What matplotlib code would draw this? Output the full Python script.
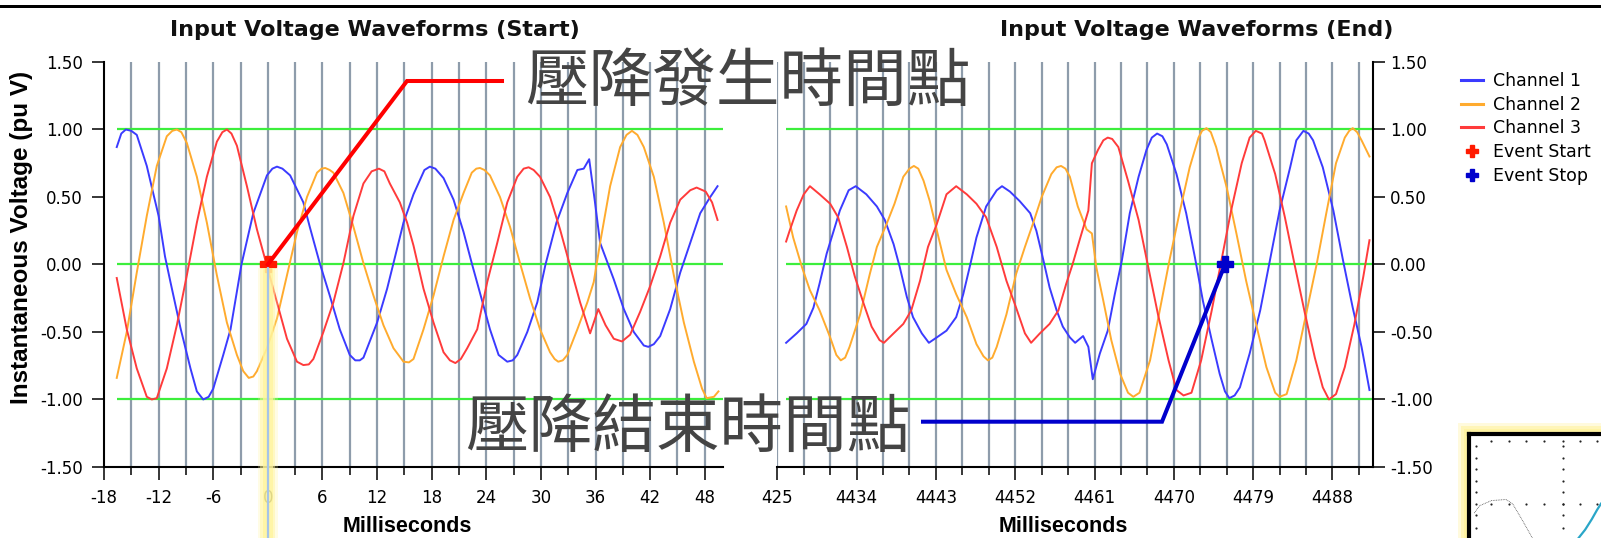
import numpy as np
import matplotlib.pyplot as plt
from matplotlib.lines import Line2D
from matplotlib.patches import Rectangle

plt.rcParams['font.family'] = ['DejaVu Sans']
plt.rcParams['axes.unicode_minus'] = False

# ---------------- waveform samples (ms, pu V) ----------------
# sag start window
start_t1 = [-16.6, -16.1, -15.6, -15.0, -14.4, -13.3, -12.6, -12.0, -11.3, -10.7, -9.6, -8.5, -7.8, -7.1,
            -6.5, -6.0, -4.9, -4.1, -2.9, -1.6, -0.1, 0.5, 1.0, 1.6, 2.45, 3.9, 4.6, 5.7, 6.8, 7.9, 9.0,
            9.6, 10.1, 10.5, 12.0, 13.1, 13.8, 14.9, 16.0, 17.2, 17.8, 18.4, 19.3, 20.4, 21.5, 22.4, 23.3,
            24.4, 25.35, 26.3, 26.9, 27.4, 28.5, 29.6, 30.5, 31.7, 32.9, 34.0, 34.7, 35.3, 35.9, 36.5,
            38.0, 39.1, 40.2, 41.3, 41.8, 42.4, 43.1, 44.2, 45.3, 46.4, 47.5, 48.6, 49.4]
start_v1 = [0.87, 0.97, 1.00, 0.99, 0.96, 0.73, 0.53, 0.36, 0.06, -0.13, -0.47, -0.77, -0.94, -1.00,
            -0.98, -0.92, -0.67, -0.48, 0.00, 0.38, 0.66, 0.71, 0.725, 0.71, 0.66, 0.46, 0.28, 0.01, -0.23,
            -0.48, -0.67, -0.71, -0.71, -0.69, -0.43, -0.18, 0.01, 0.31, 0.52, 0.70, 0.725, 0.71, 0.64,
            0.48, 0.24, 0.01, -0.21, -0.48, -0.67, -0.72, -0.71, -0.67, -0.50, -0.28, 0.00, 0.31, 0.53,
            0.70, 0.71, 0.78, 0.48, 0.16, -0.11, -0.33, -0.50, -0.60, -0.61, -0.59, -0.53, -0.33, -0.06,
            0.16, 0.38, 0.50, 0.58]

start_t2 = [-16.6, -15.5, -14.4, -13.3, -12.2, -11.1, -10.5, -10.0, -9.5, -8.9, -7.8, -6.7, -5.6, -4.5,
            -3.4, -2.7, -2.1, -1.6, -1.2, -0.1, 1.0, 2.1, 3.2, 4.3, 5.4, 5.9, 6.3, 6.8, 7.2, 8.3, 9.4,
            10.5, 11.6, 12.7, 13.8, 14.9, 15.5, 16.0, 17.1, 18.2, 19.3, 20.4, 21.5, 22.4, 22.9, 23.3, 23.8,
            24.4, 25.5, 26.6, 27.7, 28.8, 29.9, 31.0, 31.5, 31.9, 32.4, 32.9, 34.0, 35.1, 35.8, 36.5, 37.6,
            38.7, 39.4, 40.0, 40.6, 41.3, 42.4, 43.5, 44.6, 45.7, 46.8, 47.7, 48.2, 49.0, 49.5]
start_v2 = [-0.84, -0.50, -0.06, 0.36, 0.73, 0.95, 0.99, 1.00, 0.98, 0.90, 0.65, 0.31, -0.08, -0.43,
            -0.67, -0.79, -0.84, -0.83, -0.79, -0.62, -0.40, -0.08, 0.24, 0.50, 0.68, 0.71, 0.715, 0.70,
            0.68, 0.53, 0.28, 0.01, -0.23, -0.45, -0.62, -0.72, -0.725, -0.70, -0.48, -0.23, 0.06, 0.33,
            0.53, 0.68, 0.71, 0.715, 0.70, 0.66, 0.50, 0.28, 0.01, -0.25, -0.48, -0.65, -0.70, -0.72,
            -0.71, -0.67, -0.48, -0.28, -0.13, 0.16, 0.58, 0.87, 0.96, 0.99, 0.96, 0.87, 0.65, 0.31, -0.08,
            -0.43, -0.72, -0.92, -0.99, -0.98, -0.94]

start_t3 = [-16.6, -15.5, -14.4, -13.3, -12.75, -12.2, -11.1, -10.0, -8.9, -7.8, -6.7, -5.6, -5.0, -4.5,
            -4.0, -3.4, -2.3, -1.2, -0.1, 1.0, 2.1, 3.2, 3.9, 4.5, 5.0, 6.1, 7.2, 8.3, 9.4, 10.5, 11.4,
            12.2, 12.8, 13.4, 14.5, 15.3, 16.0, 17.1, 18.2, 19.3, 20.0, 20.6, 21.2, 21.9, 23.0, 24.1, 25.2,
            26.3, 27.4, 28.1, 28.65, 29.2, 29.9, 31.0, 32.1, 33.2, 34.3, 35.4, 36.3, 37.1, 38.0, 38.9, 39.8,
            40.9, 42.0, 43.1, 44.2, 45.3, 46.4, 47.1, 48.1, 48.8, 49.4]
start_v3 = [-0.10, -0.48, -0.77, -0.98, -1.00, -0.99, -0.77, -0.45, -0.08, 0.31, 0.65, 0.91, 0.98, 1.00,
            0.97, 0.88, 0.58, 0.26, -0.01, -0.28, -0.55, -0.72, -0.745, -0.74, -0.70, -0.50, -0.28, 0.01,
            0.36, 0.60, 0.69, 0.71, 0.69, 0.60, 0.46, 0.31, 0.14, -0.18, -0.43, -0.65, -0.71, -0.73, -0.70,
            -0.62, -0.48, -0.13, 0.16, 0.46, 0.65, 0.71, 0.72, 0.70, 0.65, 0.50, 0.26, -0.01, -0.28, -0.51,
            -0.33, -0.45, -0.55, -0.57, -0.52, -0.35, -0.16, 0.06, 0.31, 0.48, 0.55, 0.57, 0.54, 0.46, 0.33]

# sag end window
end_t1 = [4426.0, 4427.2, 4428.3, 4429.1, 4429.8, 4430.6, 4431.4, 4432.1, 4433.1, 4433.9, 4435.1, 4436.3,
          4437.2, 4438.2, 4438.9, 4439.7, 4440.4, 4441.4, 4442.2, 4443.1, 4444.2, 4445.3, 4446.1, 4446.9,
          4447.6, 4448.7, 4449.9, 4450.5, 4451.4, 4452.5, 4453.7, 4454.4, 4455.2, 4455.9, 4456.7, 4457.4,
          4458.2, 4458.8, 4459.7, 4460.3, 4460.8, 4461.6, 4462.5, 4463.3, 4464.1, 4465.0, 4466.0, 4466.9,
          4467.5, 4468.1, 4468.7, 4469.2, 4470.3, 4471.4, 4472.4, 4473.3, 4474.3, 4475.2, 4475.8, 4476.3,
          4476.9, 4477.5, 4478.6, 4479.8, 4480.9, 4482.0, 4483.2, 4483.9, 4484.7, 4485.3, 4485.8, 4486.9,
          4488.1, 4489.2, 4490.3, 4491.3, 4492.2]
end_v1 = [-0.58, -0.51, -0.44, -0.32, -0.14, 0.08, 0.25, 0.40, 0.55, 0.58, 0.52, 0.43, 0.33, 0.15, -0.02,
          -0.24, -0.39, -0.51, -0.58, -0.54, -0.49, -0.39, -0.22, 0.00, 0.20, 0.43, 0.55, 0.58, 0.54, 0.47,
          0.38, 0.25, 0.03, -0.17, -0.34, -0.46, -0.54, -0.58, -0.53, -0.61, -0.85, -0.66, -0.49, -0.22,
          0.03, 0.38, 0.65, 0.85, 0.94, 0.97, 0.95, 0.89, 0.67, 0.38, 0.05, -0.27, -0.56, -0.81, -0.94,
          -0.99, -0.97, -0.91, -0.66, -0.34, 0.03, 0.40, 0.72, 0.92, 0.99, 0.97, 0.92, 0.72, 0.40, 0.03,
          -0.32, -0.61, -0.93]

end_t2 = [4426.0, 4426.8, 4427.8, 4428.7, 4429.8, 4431.0, 4431.7, 4432.2, 4432.7, 4433.2, 4434.4, 4435.5,
          4436.3, 4437.4, 4438.3, 4439.3, 4440.0, 4440.5, 4441.0, 4441.6, 4442.3, 4443.3, 4444.2, 4445.3,
          4446.5, 4447.6, 4448.4, 4448.9, 4449.4, 4449.9, 4451.0, 4452.1, 4453.1, 4454.0, 4455.0, 4456.1,
          4456.7, 4457.2, 4457.7, 4458.2, 4459.1, 4460.1, 4460.7, 4461.2, 4462.0, 4462.9, 4463.9, 4464.8,
          4465.4, 4466.1, 4467.3, 4468.4, 4469.5, 4470.7, 4471.8, 4472.8, 4473.2, 4473.7, 4474.2, 4474.8,
          4476.0, 4477.1, 4478.2, 4479.4, 4480.5, 4481.5, 4482.0, 4482.8, 4483.9, 4485.0, 4486.2, 4487.3,
          4488.4, 4489.4, 4489.9, 4490.3, 4490.8, 4491.3, 4492.2]
end_v2 = [0.43, 0.20, -0.02, -0.19, -0.34, -0.54, -0.67, -0.71, -0.69, -0.61, -0.37, -0.07, 0.13, 0.30,
          0.45, 0.65, 0.71, 0.73, 0.71, 0.62, 0.47, 0.20, -0.04, -0.22, -0.39, -0.59, -0.68, -0.71, -0.69,
          -0.61, -0.37, -0.07, 0.13, 0.30, 0.50, 0.67, 0.72, 0.73, 0.71, 0.65, 0.43, 0.26, 0.23, -0.02,
          -0.27, -0.56, -0.81, -0.95, -0.98, -0.95, -0.71, -0.34, 0.03, 0.40, 0.72, 0.94, 0.99, 1.01,
          0.98, 0.87, 0.57, 0.23, -0.12, -0.46, -0.76, -0.95, -0.98, -0.96, -0.71, -0.37, 0.00, 0.38,
          0.75, 0.94, 0.99, 1.01, 0.98, 0.92, 0.80]

end_t3 = [4426.0, 4426.4, 4427.2, 4428.0, 4428.7, 4429.8, 4431.0, 4431.9, 4432.9, 4433.8, 4434.8, 4435.7,
          4436.6, 4437.1, 4438.2, 4439.3, 4440.2, 4441.2, 4442.1, 4443.1, 4444.2, 4445.3, 4446.5, 4447.6,
          4448.7, 4449.9, 4451.0, 4452.1, 4453.1, 4453.8, 4454.8, 4455.9, 4456.9, 4457.8, 4458.5, 4459.3,
          4460.3, 4460.7, 4461.4, 4462.0, 4462.5, 4463.0, 4463.7, 4464.8, 4466.0, 4467.1, 4468.2, 4469.4,
          4470.3, 4471.1, 4472.0, 4473.1, 4474.3, 4475.4, 4476.5, 4477.7, 4478.6, 4479.3, 4480.0, 4480.3,
          4481.5, 4482.6, 4483.7, 4484.9, 4486.0, 4486.9, 4487.6, 4488.4, 4489.4, 4490.5, 4491.5, 4492.2]
end_v3 = [0.17, 0.25, 0.40, 0.52, 0.58, 0.52, 0.45, 0.35, 0.13, -0.09, -0.29, -0.46, -0.56, -0.58, -0.51,
          -0.44, -0.34, -0.12, 0.13, 0.30, 0.52, 0.58, 0.52, 0.45, 0.35, 0.13, -0.12, -0.32, -0.51, -0.58,
          -0.51, -0.44, -0.34, -0.14, 0.00, 0.18, 0.40, 0.75, 0.85, 0.92, 0.94, 0.93, 0.87, 0.62, 0.33,
          -0.02, -0.37, -0.71, -0.93, -0.97, -0.95, -0.71, -0.34, 0.03, 0.40, 0.75, 0.94, 0.99, 0.97, 0.92,
          0.67, 0.35, 0.00, -0.37, -0.69, -0.91, -1.00, -0.96, -0.76, -0.44, -0.09, 0.18]

event_start = 0.0
event_stop = 4475.8

y_ticks = [-1.5, -1.0, -0.5, 0.0, 0.5, 1.0, 1.5]
ref_levels = [-1.0, 0.0, 1.0]
start_ticks = [-18, -12, -6, 0, 6, 12, 18, 24, 30, 36, 42, 48]
end_ticks = [4425, 4434, 4443, 4452, 4461, 4470, 4479, 4488]
end_tick_labels = ['425', '4434', '4443', '4452', '4461', '4470', '4479', '4488']
legend_labels = ['Channel 1', 'Channel 2', 'Channel 3', 'Event Start', 'Event Stop']

# thumbnail plot in the corner (its own 0..1 units)
thumb_grid_x = [0.17, 0.30, 0.43, 0.57, 0.71, 0.84, 0.97]
thumb_grid_y = [0.88, 0.77, 0.66, 0.55, 0.44, 0.33, 0.22, 0.10]
thumb_trace_x = [0.04, 0.08, 0.17, 0.28, 0.33, 0.40, 0.48]
thumb_trace_y = [0.24, 0.31, 0.36, 0.37, 0.33, 0.18, 0.00]
thumb_curve_x = [0.83, 0.88, 0.93, 0.97, 1.00]
thumb_curve_y = [0.00, 0.08, 0.18, 0.27, 0.33]

# colours
c1, c2, c3 = '#3b3bff', '#ffab2e', '#ff3b3b'
grid_c = '#8e9cab'
green = '#3cee3c'
stop_blue = '#0000cc'

W, H = 1601, 538


def fx(px):
    return px / W


def fy(py):
    return 1 - py / H


fig = plt.figure(figsize=(W / 100, H / 100), dpi=100)

ax1 = fig.add_axes([fx(104), fy(467), (723 - 104) / W, (467 - 62) / H])
ax2 = fig.add_axes([fx(777.3), fy(467), (1373 - 777.3) / W, (467 - 62) / H])

panels = [
    (ax1, (-18, 50), np.arange(-15, 49, 3), [(start_t1, start_v1, c1), (start_t2, start_v2, c2), (start_t3, start_v3, c3)]),
    (ax2, (4425, 4492.6), np.arange(4425, 4492, 3), [(end_t1, end_v1, c1), (end_t2, end_v2, c2), (end_t3, end_v3, c3)]),
]

for ax, xlim, grid_t, series in panels:
    ax.set_xlim(*xlim)
    ax.set_ylim(-1.5, 1.5)
    ax.vlines(grid_t, -1.5, 1.5, color=grid_c, lw=1.6, zorder=1)
    ax.hlines(ref_levels, series[0][0][0], xlim[1], color=green, lw=1.6, zorder=2)
    for t, v, c in series:
        ax.plot(t, v, color=c, lw=1.4, zorder=3, solid_joinstyle='round')
    ax.set_xticks(grid_t, minor=True)
    ax.set_yticks(y_ticks)
    ax.set_yticklabels([f'{y:.2f}' for y in y_ticks])
    ax.tick_params(axis='both', which='major', labelsize=12, width=1.1, color='black')
    ax.tick_params(axis='x', which='major', length=9.5, pad=6)
    ax.tick_params(axis='x', which='minor', length=5.8, width=1.1)
    ax.tick_params(axis='y', length=8.6)
    for s in ax.spines.values():
        s.set_linewidth(1.5)

ax1.set_xticks(start_ticks)
ax1.set_xticklabels([str(t) for t in start_ticks])
ax1.spines['top'].set_visible(False)
ax1.spines['right'].set_visible(False)
ax1.tick_params(axis='y', pad=6.5)

ax2.set_xticks(end_ticks)
ax2.set_xticklabels(end_tick_labels)
ax2.spines['top'].set_visible(False)
ax2.spines['left'].set_visible(False)
ax2.yaxis.tick_right()
ax2.tick_params(axis='y', pad=3.6)

# event markers
ax1.plot([event_start], [0], ls='none', marker='P', ms=12, color='#ff1a00', zorder=6)
ax2.plot([event_stop], [0], ls='none', marker='P', ms=12, color=stop_blue, zorder=6)

# titles and axis labels
fig.text(fx(375), fy(30), 'Input Voltage Waveforms (Start)', ha='center', va='center',
         fontsize=16, fontweight='bold', color='#111111')
fig.text(fx(1197), fy(30), 'Input Voltage Waveforms (End)', ha='center', va='center',
         fontsize=16, fontweight='bold', color='#111111')
fig.text(fx(22), fy(237), 'Instantaneous Voltage (pu V)', rotation=90, ha='center', va='center',
         fontsize=17.5, fontweight='bold', family='Liberation Sans')
fig.text(fx(407), fy(527), 'Milliseconds', ha='center', va='center', fontsize=15.5,
         fontweight='bold', family='Liberation Sans')
fig.text(fx(1063), fy(527), 'Milliseconds', ha='center', va='center', fontsize=15.5,
         fontweight='bold', family='Liberation Sans')

# legend
handles = [Line2D([], [], color=c1, lw=2.2), Line2D([], [], color=c2, lw=2.2),
           Line2D([], [], color=c3, lw=2.2),
           Line2D([], [], ls='none', marker='P', ms=9, color='#ff1a00'),
           Line2D([], [], ls='none', marker='P', ms=9, color=stop_blue)]
fig.legend(handles, legend_labels, loc='upper left', bbox_to_anchor=(fx(1461), fy(72)),
           frameon=False, fontsize=12.5, handlelength=1.26, handletextpad=0.57,
           labelspacing=0.33, borderpad=0, borderaxespad=0)

# marker positions in figure fraction
to_fig = fig.transFigure.inverted()
sx, sy = to_fig.transform(ax1.transData.transform((event_start, 0)))
ex, ey = to_fig.transform(ax2.transData.transform((event_stop, 0)))

# highlight under the start marker
for w, a in [(20, 0.25), (15, 0.45), (10, 0.7)]:
    fig.add_artist(Rectangle((sx - w / 2 / W, 0), w / W, sy - 4 / H, transform=fig.transFigure,
                             facecolor='#fff59a', edgecolor='none', alpha=a, zorder=4))
fig.add_artist(Line2D([sx, sx], [0, sy - 4 / H], transform=fig.transFigure, color='#a6c4e8',
                      lw=1.6, zorder=5))

# call-out lines
fig.add_artist(Line2D([sx, fx(407), fx(502)], [sy, fy(81), fy(81)], transform=fig.transFigure,
                      color='#ff0000', lw=2.9, solid_joinstyle='miter', zorder=7))
fig.add_artist(Line2D([ex, fx(1162), fx(923)], [ey, fy(421.7), fy(421.7)], transform=fig.transFigure,
                      color=stop_blue, lw=2.9, solid_joinstyle='miter', zorder=7))

cjk = ['Noto Sans CJK TC', 'DejaVu Sans']
fig.text(fx(525), fy(83), '壓降發生時間點', ha='left', va='center', fontsize=45.8, color='#444444',
         family=cjk, zorder=8)
fig.text(fx(465), fy(429), '壓降結束時間點', ha='left', va='center', fontsize=45.8, color='#444444',
         family=cjk, zorder=8)

# top rule
fig.add_artist(Rectangle((0, fy(8.3)), 1, 3.3 / H, transform=fig.transFigure, facecolor='black',
                         edgecolor='none', zorder=9))

# small framed thumbnail in the lower right corner, with a soft yellow glow
for pad, a in [(9, 0.35), (6, 0.6), (3, 0.9)]:
    fig.add_artist(Rectangle((fx(1467 - pad), 0), (W - 1467 + pad) / W, (538 - 432 + pad) / H,
                             transform=fig.transFigure, facecolor='#fff3a0', edgecolor='none',
                             alpha=a, zorder=4))
ins = fig.add_axes([fx(1469), 0, (W - 1469) / W, (538 - 434) / H])
ins.set_zorder(5)
ins.set_xlim(0, 1)
ins.set_ylim(0, 1)
ins.set_xticks([])
ins.set_yticks([])
ins.spines['top'].set_linewidth(3)
ins.spines['left'].set_linewidth(3)
ins.spines['right'].set_visible(False)
ins.spines['bottom'].set_visible(False)
# tick dots along the frame and dotted guide lines
ins.scatter(thumb_grid_x, [0.93] * len(thumb_grid_x), s=2.5, color='#222222', lw=0)
ins.scatter([0.05] * len(thumb_grid_y), thumb_grid_y, s=2.5, color='#222222', lw=0)
ins.scatter([0.71] * len(thumb_grid_y), thumb_grid_y, s=2.5, color='#222222', lw=0)
ins.scatter(thumb_grid_x, [0.33] * len(thumb_grid_x), s=2.5, color='#222222', lw=0)
ins.plot(thumb_trace_x, thumb_trace_y, color='#555555', lw=0.6, ls=(0, (1, 1)))
ins.plot(thumb_curve_x, thumb_curve_y, color='#2aa6c8', lw=1.6)

fig.savefig('out.png', dpi=100)
